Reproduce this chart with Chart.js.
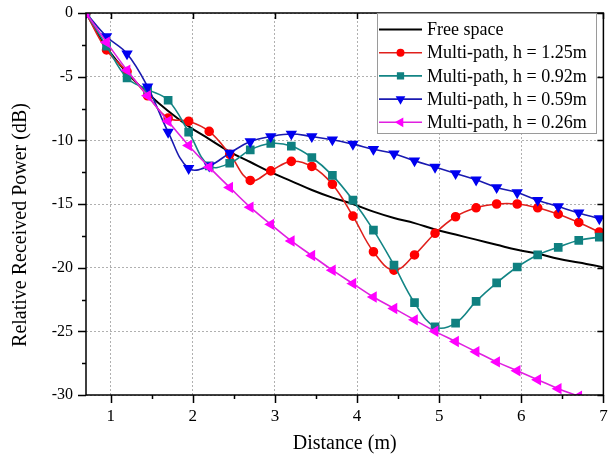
<!DOCTYPE html>
<html>
<head>
<meta charset="utf-8">
<title>Relative received power vs distance</title>
<script src="https://cdn.jsdelivr.net/npm/chart.js@4.4.1/dist/chart.umd.min.js"></script>
<style>
  html, body { margin: 0; padding: 0; background: #fff; }
  #wrap { width: 610px; height: 459px; }
</style>
</head>
<body>
<div id="wrap"><canvas id="powerChart" width="610" height="459"></canvas></div>
<script>
// distances (m) where the multi-path curves were sampled
const distance = [0.7, 0.95, 1.2, 1.45, 1.7, 1.95, 2.2, 2.45, 2.7, 2.95, 3.2, 3.45, 3.7,
  3.95, 4.2, 4.45, 4.7, 4.95, 5.2, 5.45, 5.7, 5.95, 6.2, 6.45, 6.7, 6.95];
const freeDistance = [0.7, 0.95, 1.2, 1.45, 1.7, 1.95, 2.2, 2.45, 2.7, 2.95, 3.2, 3.45, 3.7,
  3.95, 4.2, 4.45, 4.7, 4.95, 5.2, 5.45, 5.7, 5.95, 6.2, 6.45, 6.7, 6.95, 7.0];

// relative received power (dB)
const freeSpace = [0, -2.7, -4.7, -6.3, -7.7, -8.9, -9.9, -10.9, -11.7, -12.5, -13.2, -13.9, -14.5,
  -15.0, -15.6, -16.1, -16.5, -17.0, -17.4, -17.8, -18.2, -18.6, -18.9, -19.3, -19.6, -19.9, -20.0];
const h125 = [0, -2.9, -4.6, -6.5, -8.25, -8.5, -9.3, -11.1, -13.15, -12.4, -11.65, -12.05, -13.45,
  -15.95, -18.75, -20.2, -19.0, -17.3, -16.0, -15.3, -15.0, -15.0, -15.3, -15.8, -16.45, -17.2];
const h092 = [0, -2.6, -5.1, -6.0, -6.85, -9.35, -12.0, -11.8, -10.75, -10.25, -10.45, -11.35, -12.75,
  -14.7, -17.05, -19.8, -22.75, -24.65, -24.35, -22.65, -21.2, -19.95, -19.0, -18.4, -17.85, -17.6];
const h059 = [0, -1.85, -3.2, -5.8, -9.35, -12.2, -12.0, -11.0, -10.1, -9.7, -9.5, -9.7, -9.95,
  -10.3, -10.7, -11.05, -11.6, -12.1, -12.6, -13.1, -13.7, -14.1, -14.7, -15.2, -15.7, -16.15];
const h026 = [0, -2.3, -4.5, -6.5, -8.5, -10.4, -12.1, -13.7, -15.25, -16.6, -17.9, -19.05, -20.2,
  -21.25, -22.3, -23.2, -24.1, -25.0, -25.8, -26.6, -27.4, -28.1, -28.8, -29.5, -30.1];

// axis ticks
const xMajor = [1, 2, 3, 4, 5, 6, 7];
const xMinor = [1.5, 2.5, 3.5, 4.5, 5.5, 6.5];
const yMajor = [0, -5, -10, -15, -20, -25, -30];
const yMinor = [-2.5, -7.5, -12.5, -17.5, -22.5, -27.5];

const serif = "'Liberation Serif', 'Times New Roman', serif";

function toPoints(xs, ys) {
  return ys.map((v, i) => ({ x: xs[i], y: v }));
}

// frame, tick marks, legend box and y title
const decorations = {
  id: "decorations",
  afterDraw(chart) {
    const { ctx, chartArea: a } = chart;
    const xs = chart.scales.x;
    const ys = chart.scales.y;
    ctx.save();

    ctx.strokeStyle = "#000";
    ctx.lineWidth = 1.5;
    ctx.strokeRect(a.left, a.top, a.right - a.left, a.bottom - a.top);

    ctx.beginPath();
    xMajor.forEach((v) => {
      const px = Math.round(xs.getPixelForValue(v)) + 0.5;
      ctx.moveTo(px, a.bottom); ctx.lineTo(px, a.bottom + 8);
      ctx.moveTo(px, a.top); ctx.lineTo(px, a.top + 6);
    });
    xMinor.forEach((v) => {
      const px = Math.round(xs.getPixelForValue(v)) + 0.5;
      ctx.moveTo(px, a.bottom); ctx.lineTo(px, a.bottom + 4);
    });
    yMajor.forEach((v) => {
      const py = Math.round(ys.getPixelForValue(v)) + 0.5;
      ctx.moveTo(a.left, py); ctx.lineTo(a.left - 8, py);
      ctx.moveTo(a.right, py); ctx.lineTo(a.right - 6, py);
    });
    yMinor.forEach((v) => {
      const py = Math.round(ys.getPixelForValue(v)) + 0.5;
      ctx.moveTo(a.left, py); ctx.lineTo(a.left - 4, py);
    });
    ctx.stroke();

    // y axis title
    ctx.fillStyle = "#000";
    ctx.font = "20px " + serif;
    ctx.textAlign = "center";
    ctx.textBaseline = "middle";
    ctx.translate(21, 225);
    ctx.rotate(-Math.PI / 2);
    ctx.fillText("Relative Received Power (dB)", 0, 0);
    ctx.setTransform(1, 0, 0, 1, 0, 0);

    // legend
    const box = { left: 377, top: 13, right: 597, bottom: 134 };
    ctx.fillStyle = "#fff";
    ctx.fillRect(box.left, box.top, box.right - box.left, box.bottom - box.top);
    ctx.strokeStyle = "#9a9a9a";
    ctx.lineWidth = 1;
    ctx.strokeRect(box.left + 0.5, box.top + 0.5, box.right - box.left - 1, box.bottom - box.top - 1);

    ctx.font = "18px " + serif;
    ctx.textAlign = "left";
    chart.data.datasets.forEach((ds, i) => {
      const rowY = 29.5 + i * 23.2;
      ctx.strokeStyle = ds.borderColor;
      ctx.lineWidth = ds.borderWidth;
      ctx.beginPath();
      ctx.moveTo(379, rowY);
      ctx.lineTo(422, rowY);
      ctx.stroke();
      if (ds.pointRadius > 0) {
        ctx.fillStyle = ds.pointBackgroundColor;
        ctx.strokeStyle = ds.pointBorderColor;
        Chart.helpers.drawPoint(ctx, {
          pointStyle: ds.pointStyle,
          rotation: ds.pointRotation || 0,
          radius: ds.pointRadius * 0.8,
          borderWidth: 1
        }, 400.5, rowY);
      }
      ctx.fillStyle = "#000";
      ctx.fillText(ds.label, 427, rowY + 1);
    });

    ctx.restore();
  }
};

const ctx = document.getElementById("powerChart").getContext("2d");

new Chart(ctx, {
  type: "line",
  data: {
    datasets: [
      {
        label: "Free space",
        data: toPoints(freeDistance, freeSpace),
        borderColor: "#000000",
        borderWidth: 2,
        pointRadius: 0,
        tension: 0.4,
        order: 4
      },
      {
        label: "Multi-path, h = 1.25m",
        data: toPoints(distance, h125),
        borderColor: "#e0201c",
        borderWidth: 1.6,
        pointStyle: "circle",
        pointRadius: 4,
        pointBackgroundColor: "#ff0000",
        pointBorderColor: "#ff0000",
        tension: 0.4,
        order: 3
      },
      {
        label: "Multi-path, h = 0.92m",
        data: toPoints(distance, h092),
        borderColor: "#138585",
        borderWidth: 1.6,
        pointStyle: "rect",
        pointRadius: 5,
        pointBackgroundColor: "#0f8080",
        pointBorderColor: "#0f8080",
        tension: 0.4,
        order: 2
      },
      {
        label: "Multi-path, h = 0.59m",
        data: toPoints(distance, h059),
        borderColor: "#1a1ab0",
        borderWidth: 1.6,
        pointStyle: "triangle",
        pointRotation: 180,
        pointRadius: 5,
        pointBackgroundColor: "#0000f0",
        pointBorderColor: "#0000f0",
        tension: 0.4,
        order: 1
      },
      {
        label: "Multi-path, h = 0.26m",
        data: toPoints(distance, h026),
        borderColor: "#e020e0",
        borderWidth: 1.6,
        pointStyle: "triangle",
        pointRotation: -90,
        pointRadius: 5,
        pointBackgroundColor: "#ff00ff",
        pointBorderColor: "#ff00ff",
        tension: 0.4,
        order: 0
      }
    ]
  },
  options: {
    responsive: false,
    animation: false,
    devicePixelRatio: 1,
    layout: { padding: { top: 13, right: 3, left: 0, bottom: 0 } },
    plugins: {
      legend: { display: false },
      tooltip: { enabled: false }
    },
    scales: {
      x: {
        type: "linear",
        min: 0.7,
        max: 7,
        afterBuildTicks: (axis) => { axis.ticks = xMajor.map((v) => ({ value: v })); },
        afterFit: (axis) => {
          axis.height = 64;
          axis.paddingLeft = 0;
          axis.paddingRight = 0;
        },
        grid: { color: "#b0b0b0", lineWidth: 1, drawTicks: false },
        border: { display: false, dash: [2, 2] },
        ticks: {
          padding: 11,
          color: "#000",
          maxRotation: 0,
          font: { family: serif, size: 17 }
        },
        title: {
          display: true,
          text: "Distance (m)",
          color: "#000",
          font: { family: serif, size: 20 },
          padding: { top: 0, bottom: 3 }
        }
      },
      y: {
        min: -30,
        max: 0,
        afterBuildTicks: (axis) => { axis.ticks = yMajor.map((v) => ({ value: v })); },
        afterFit: (axis) => {
          axis.width = 86;
          axis.paddingTop = 0;
          axis.paddingBottom = 0;
        },
        grid: { color: "#b0b0b0", lineWidth: 1, drawTicks: false },
        border: { display: false, dash: [2, 2] },
        ticks: {
          padding: 13,
          color: "#000",
          font: { family: serif, size: 16 }
        }
      }
    }
  },
  plugins: [decorations]
});
</script>
</body>
</html>
